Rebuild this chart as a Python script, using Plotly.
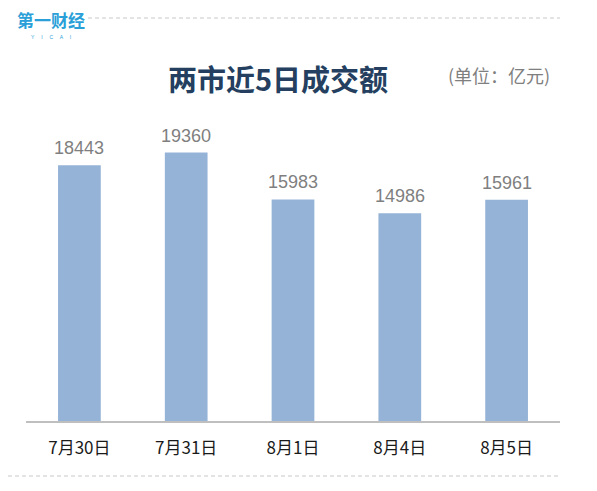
import plotly.graph_objects as go

categories = ["7月30日", "7月31日", "8月1日", "8月4日", "8月5日"]
values = [18443, 19360, 15983, 14986, 15961]

OFF = 8  # page body margin
W, H = 597 - 2 * OFF, 491 - 2 * OFF
L, R, T, B = 26 - OFF, 560 - OFF, 116 - OFF, 421 - OFF  # plot area pixel bounds


def px(x):
    return (x - OFF - L) / (R - L)


def py(y):
    return (B - (y - OFF)) / (B - T)


fig = go.Figure(go.Bar(
    x=categories, y=values,
    marker=dict(color="#95B3D7", line=dict(width=0)),
    width=0.4,
    hoverinfo="x+y",
))

fig.update_layout(
    width=W, height=H,
    margin=dict(l=L, r=W - R, t=T, b=H - B),
    paper_bgcolor="white", plot_bgcolor="white",
    showlegend=False,
    bargap=0.6,
    xaxis=dict(showgrid=False, showline=True, linecolor="#BFBFBF", linewidth=1.5,
               ticks="", ticklabelstandoff=11,
               tickfont=dict(family="Noto Sans CJK SC", size=17, color="#1A1A1A"),
               fixedrange=True),
    yaxis=dict(range=[0, 22000], visible=False, showgrid=False, zeroline=False),
    font=dict(family="Noto Sans CJK SC"),
)

shapes = [
    dict(type="line", xref="paper", yref="paper", x0=px(88), x1=px(560), y0=py(18), y1=py(18),
         line=dict(color="#C8C8C8", width=1, dash="4px,3px")),
    dict(type="line", xref="paper", yref="paper", x0=px(8), x1=px(560), y0=py(476), y1=py(476),
         line=dict(color="#C8C8C8", width=1, dash="4px,3px")),
]
fig.update_layout(shapes=shapes)

annotations = [
    dict(x=c, y=v, xref="x", yref="y", text=str(v), showarrow=False,
         xanchor="center", yanchor="bottom", yshift=5,
         font=dict(family="Liberation Sans, Arial", size=18, color="#7F7F7F"))
    for c, v in zip(categories, values)
]
annotations += [
    dict(text="<b>两市近5日成交额</b>", xref="paper", yref="paper", x=px(278), y=py(78),
         showarrow=False, xanchor="center", yanchor="middle",
         font=dict(family="Noto Sans CJK SC", size=29, color="#243F60")),
    dict(text="(单位：亿元)", xref="paper", yref="paper", x=px(499), y=py(75),
         showarrow=False, xanchor="center", yanchor="middle",
         font=dict(family="Noto Sans CJK SC", size=18, color="#7F7F7F")),
    dict(text="<b>第一财经</b>", xref="paper", yref="paper", x=px(51), y=py(20),
         showarrow=False, xanchor="center", yanchor="middle",
         font=dict(family="Noto Sans CJK SC", size=17, color="#2A9FD8")),
    dict(text="Y     I     C     A     I", xref="paper", yref="paper", x=px(51), y=py(37),
         showarrow=False, xanchor="center", yanchor="middle",
         font=dict(family="Liberation Sans", size=5, color="#2A9FD8")),
]
fig.update_layout(annotations=annotations)

fig.write_html("out.html")
